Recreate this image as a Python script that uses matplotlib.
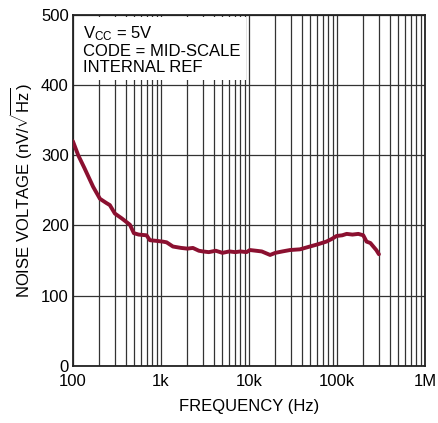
import matplotlib
matplotlib.use("Agg")
import matplotlib.pyplot as plt
from matplotlib.ticker import FixedLocator, NullFormatter

plt.rcParams['font.family'] = ['Liberation Sans', 'DejaVu Sans']
plt.rcParams['mathtext.fontset'] = 'custom'
plt.rcParams['mathtext.rm'] = 'Liberation Sans'
plt.rcParams['mathtext.it'] = 'Liberation Sans'

# noise curve (Hz, nV/rtHz)
freq = [100, 115, 135, 170, 203, 240, 263, 300, 360, 445, 493, 560, 687, 750,
        900, 1050, 1160, 1370, 1700, 2000, 2310, 2700, 3000, 3500, 4200, 5000,
        6000, 7000, 8000, 9400, 10260, 12000, 14000, 17400, 20000, 24000,
        29300, 38000, 49300, 60000, 75800, 88000, 99000, 115000, 129000,
        150000, 175000, 199000, 217000, 240000, 259000, 280000, 300000]
noise = [320, 300, 282, 255, 238, 232, 229, 217, 210, 201, 189, 187, 186, 179,
         178, 177, 176, 170, 168, 167, 168, 164, 163, 162, 164, 161,
         163, 162, 163, 162, 165, 164, 163, 158, 161, 163,
         165, 166, 170, 173, 177, 181, 185, 186, 188,
         187, 188, 186, 177, 175, 170, 165, 159]

xticks = [100, 1000, 10000, 100000, 1000000]
xlabels = ['100', '1k', '10k', '100k', '1M']
yticks = [0, 100, 200, 300, 400, 500]

fig = plt.figure(figsize=(4.39, 4.23), dpi=100)
ax = fig.add_axes([0.166, 0.135, 0.802, 0.83])
ax.set_xscale('log')
ax.set_xlim(100, 1e6)
ax.set_ylim(0, 500)

ax.plot(freq, noise, color='#8b1030', lw=2.8, solid_capstyle='round', zorder=3)

ax.set_xticks(xticks)
ax.set_xticklabels(xlabels)
minors = [m * 10 ** d for d in range(2, 6) for m in range(2, 10)]
ax.xaxis.set_minor_locator(FixedLocator(minors))
ax.xaxis.set_minor_formatter(NullFormatter())
ax.set_yticks(yticks)
ax.grid(True, which='both', axis='x', color='#333333', lw=0.9)
ax.grid(True, which='major', axis='y', color='#333333', lw=0.9)
ax.tick_params(which='both', length=0, labelsize=12)
ax.tick_params(axis='x', pad=6)
ax.tick_params(axis='y', pad=3)
for s in ax.spines.values():
    s.set_linewidth(1.3)
    s.set_color('#222222')

ax.set_xlabel('FREQUENCY (Hz)', fontsize=12, labelpad=7)
ax.set_ylabel(r'NOISE VOLTAGE (nV/$\sqrt{\mathrm{Hz}}$)', fontsize=12, labelpad=5)

ax.text(0.028, 0.972, 'V$_{\\mathrm{CC}}$ = 5V\nCODE = MID-SCALE\nINTERNAL REF',
        transform=ax.transAxes, fontsize=12, va='top', ha='left',
        linespacing=1.05, zorder=4,
        bbox=dict(facecolor='white', edgecolor='none', pad=4))

fig.savefig('out.png', dpi=100)
